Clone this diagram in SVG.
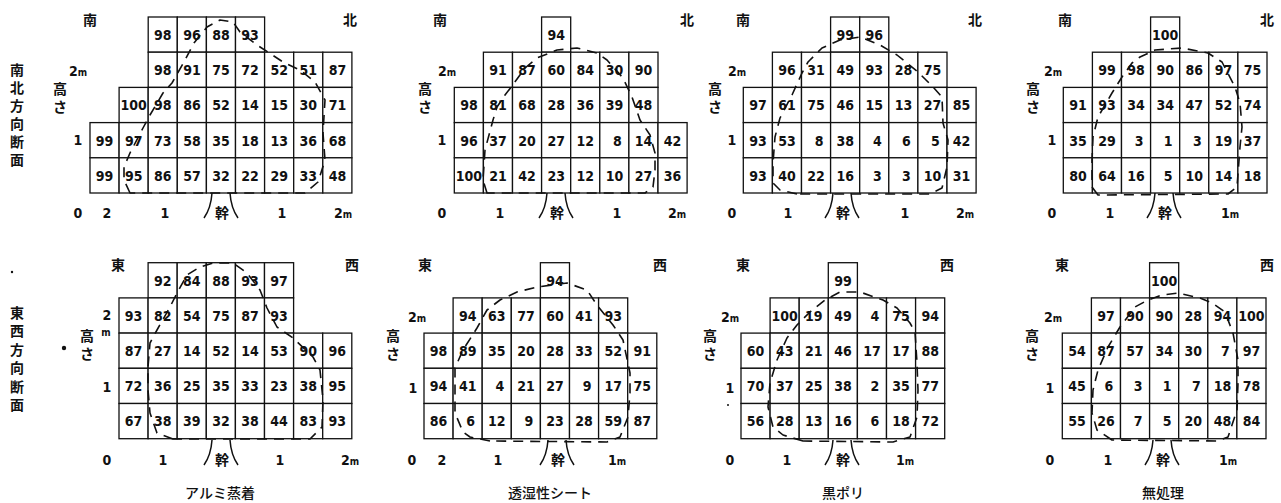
<svg xmlns="http://www.w3.org/2000/svg" xmlns:xlink="http://www.w3.org/1999/xlink" width="1281" height="503" viewBox="0 0 1281 503">
<style>
.cell{fill:#fff;stroke:#111;stroke-width:1.3}
.n{font-family:"Liberation Sans Narrow","DejaVu Sans Condensed","Liberation Sans",sans-serif;font-size:14px;font-weight:600;text-anchor:middle;fill:#111}
.lb{font-family:"Liberation Sans Narrow","DejaVu Sans Condensed","Liberation Sans",sans-serif;font-size:14px;font-weight:600;text-anchor:middle;fill:#111}
.jp{font-family:"Noto Sans CJK JP","Noto Sans CJK SC",sans-serif;font-size:14px;font-weight:700;text-anchor:middle;fill:#111}
.cap{font-family:"Noto Sans CJK JP","Noto Sans CJK SC",sans-serif;font-size:14px;font-weight:500;text-anchor:middle;fill:#111}
.o{fill:none;stroke:#111;stroke-width:1.6;stroke-dasharray:10 7;stroke-linejoin:round}
.t{fill:none;stroke:#111;stroke-width:1.5}
.sm{font-size:10px}
</style>
<defs><rect id="c" class="cell" width="29.1" height="35.2"/></defs>
<rect width="1281" height="503" fill="#fff"/>

<g id="side-labels">
<text class="jp" x="17" y="75"><tspan x="17">南</tspan><tspan x="17" dy="18">北</tspan><tspan x="17" dy="18">方</tspan><tspan x="17" dy="18">向</tspan><tspan x="17" dy="18">断</tspan><tspan x="17" dy="18">面</tspan></text>
<text class="jp" x="17" y="318"><tspan x="17">東</tspan><tspan x="17" dy="18.4">西</tspan><tspan x="17" dy="18.4">方</tspan><tspan x="17" dy="18.4">向</tspan><tspan x="17" dy="18.4">断</tspan><tspan x="17" dy="18.4">面</tspan></text>
<circle cx="64" cy="348" r="2.2" fill="#111"/>
<circle cx="12" cy="272" r="1.2" fill="#111"/>
<circle cx="728" cy="405" r="1" fill="#111"/>
</g>

<!-- Panel 1: アルミ蒸着 南北 -->
<g id="p1">
<g transform="translate(90,17)">
<use href="#c" x="58.2" y="0"/><use href="#c" x="87.3" y="0"/><use href="#c" x="116.4" y="0"/><use href="#c" x="145.5" y="0"/>
<use href="#c" x="58.2" y="35.2"/><use href="#c" x="87.3" y="35.2"/><use href="#c" x="116.4" y="35.2"/><use href="#c" x="145.5" y="35.2"/><use href="#c" x="174.6" y="35.2"/><use href="#c" x="203.7" y="35.2"/><use href="#c" x="232.8" y="35.2"/>
<use href="#c" x="29.1" y="70.4"/><use href="#c" x="58.2" y="70.4"/><use href="#c" x="87.3" y="70.4"/><use href="#c" x="116.4" y="70.4"/><use href="#c" x="145.5" y="70.4"/><use href="#c" x="174.6" y="70.4"/><use href="#c" x="203.7" y="70.4"/><use href="#c" x="232.8" y="70.4"/>
<use href="#c" x="0" y="105.6"/><use href="#c" x="29.1" y="105.6"/><use href="#c" x="58.2" y="105.6"/><use href="#c" x="87.3" y="105.6"/><use href="#c" x="116.4" y="105.6"/><use href="#c" x="145.5" y="105.6"/><use href="#c" x="174.6" y="105.6"/><use href="#c" x="203.7" y="105.6"/><use href="#c" x="232.8" y="105.6"/>
<use href="#c" x="0" y="140.8"/><use href="#c" x="29.1" y="140.8"/><use href="#c" x="58.2" y="140.8"/><use href="#c" x="87.3" y="140.8"/><use href="#c" x="116.4" y="140.8"/><use href="#c" x="145.5" y="140.8"/><use href="#c" x="174.6" y="140.8"/><use href="#c" x="203.7" y="140.8"/><use href="#c" x="232.8" y="140.8"/>
<text class="n" x="72.8" y="23">98</text><text class="n" x="101.9" y="23">96</text><text class="n" x="131" y="23">88</text><text class="n" x="160.1" y="23">93</text>
<text class="n" x="72.8" y="58.2">98</text><text class="n" x="101.9" y="58.2">91</text><text class="n" x="131" y="58.2">75</text><text class="n" x="160.1" y="58.2">72</text><text class="n" x="189.2" y="58.2">52</text><text class="n" x="218.3" y="58.2">51</text><text class="n" x="247.4" y="58.2">87</text>
<text class="n" x="43.7" y="93.4">100</text><text class="n" x="72.8" y="93.4">98</text><text class="n" x="101.9" y="93.4">86</text><text class="n" x="131" y="93.4">52</text><text class="n" x="160.1" y="93.4">14</text><text class="n" x="189.2" y="93.4">15</text><text class="n" x="218.3" y="93.4">30</text><text class="n" x="247.4" y="93.4">71</text>
<text class="n" x="14.6" y="128.6">99</text><text class="n" x="43.7" y="128.6">97</text><text class="n" x="72.8" y="128.6">73</text><text class="n" x="101.9" y="128.6">58</text><text class="n" x="131" y="128.6">35</text><text class="n" x="160.1" y="128.6">18</text><text class="n" x="189.2" y="128.6">13</text><text class="n" x="218.3" y="128.6">36</text><text class="n" x="247.4" y="128.6">68</text>
<text class="n" x="14.6" y="163.8">99</text><text class="n" x="43.7" y="163.8">95</text><text class="n" x="72.8" y="163.8">86</text><text class="n" x="101.9" y="163.8">57</text><text class="n" x="131" y="163.8">32</text><text class="n" x="160.1" y="163.8">22</text><text class="n" x="189.2" y="163.8">29</text><text class="n" x="218.3" y="163.8">33</text><text class="n" x="247.4" y="163.8">48</text>
</g>
<text class="jp" x="90" y="25">南</text><text class="jp" x="350" y="25">北</text>
<text class="lb" x="78" y="76">2<tspan class="sm">m</tspan></text>
<text class="jp" x="60" y="94"><tspan x="60">高</tspan><tspan x="60" dy="18">さ</tspan></text>
<text class="lb" x="78" y="145">1</text>
<text class="lb" x="78" y="218">0</text><text class="lb" x="107" y="218">2</text><text class="lb" x="165" y="218">1</text><text class="jp" x="222" y="218">幹</text><text class="lb" x="282" y="218">1</text><text class="lb" x="343" y="218">2<tspan class="sm">m</tspan></text>
<path class="t" d="M212,193 Q211,208 204,218 M230,193 Q231,208 238,218"/>
<path class="o" d="M130,193 L124,180 L124,167 L130,153 L143,128 L150,115 L163,93 L172,83 L185,60 L194,43 L207,27 L220,20 L233,22 L240,32 L257,45 L283,62 L300,70 L315,82 L325,100 L323,133 L325,160 L318,182 L305,193 Z"/>
</g>

<!-- Panel 2: 透湿性シート 南北 -->
<g id="p2">
<g transform="translate(454.3,17)">
<use href="#c" x="87.3" y="0"/>
<use href="#c" x="29.1" y="35.2"/><use href="#c" x="58.2" y="35.2"/><use href="#c" x="87.3" y="35.2"/><use href="#c" x="116.4" y="35.2"/><use href="#c" x="145.5" y="35.2"/><use href="#c" x="174.6" y="35.2"/>
<use href="#c" x="0" y="70.4"/><use href="#c" x="29.1" y="70.4"/><use href="#c" x="58.2" y="70.4"/><use href="#c" x="87.3" y="70.4"/><use href="#c" x="116.4" y="70.4"/><use href="#c" x="145.5" y="70.4"/><use href="#c" x="174.6" y="70.4"/>
<use href="#c" x="0" y="105.6"/><use href="#c" x="29.1" y="105.6"/><use href="#c" x="58.2" y="105.6"/><use href="#c" x="87.3" y="105.6"/><use href="#c" x="116.4" y="105.6"/><use href="#c" x="145.5" y="105.6"/><use href="#c" x="174.6" y="105.6"/><use href="#c" x="203.7" y="105.6"/>
<use href="#c" x="0" y="140.8"/><use href="#c" x="29.1" y="140.8"/><use href="#c" x="58.2" y="140.8"/><use href="#c" x="87.3" y="140.8"/><use href="#c" x="116.4" y="140.8"/><use href="#c" x="145.5" y="140.8"/><use href="#c" x="174.6" y="140.8"/><use href="#c" x="203.7" y="140.8"/>
<text class="n" x="101.9" y="23">94</text>
<text class="n" x="43.7" y="58.2">91</text><text class="n" x="72.8" y="58.2">87</text><text class="n" x="101.9" y="58.2">60</text><text class="n" x="131" y="58.2">84</text><text class="n" x="160.1" y="58.2">30</text><text class="n" x="189.2" y="58.2">90</text>
<text class="n" x="14.6" y="93.4">98</text><text class="n" x="43.7" y="93.4">81</text><text class="n" x="72.8" y="93.4">68</text><text class="n" x="101.9" y="93.4">28</text><text class="n" x="131" y="93.4">36</text><text class="n" x="160.1" y="93.4">39</text><text class="n" x="189.2" y="93.4">48</text>
<text class="n" x="14.6" y="128.6">96</text><text class="n" x="43.7" y="128.6">37</text><text class="n" x="72.8" y="128.6">20</text><text class="n" x="101.9" y="128.6">27</text><text class="n" x="131" y="128.6">12</text><text class="n" x="163.1" y="128.6">8</text><text class="n" x="189.2" y="128.6">14</text><text class="n" x="218.3" y="128.6">42</text>
<text class="n" x="14.6" y="163.8">100</text><text class="n" x="43.7" y="163.8">21</text><text class="n" x="72.8" y="163.8">42</text><text class="n" x="101.9" y="163.8">23</text><text class="n" x="131" y="163.8">12</text><text class="n" x="160.1" y="163.8">10</text><text class="n" x="189.2" y="163.8">27</text><text class="n" x="218.3" y="163.8">36</text>
</g>
<text class="jp" x="440" y="25">南</text><text class="jp" x="687" y="25">北</text>
<text class="lb" x="447" y="76">2<tspan class="sm">m</tspan></text>
<text class="jp" x="425" y="94"><tspan x="425">高</tspan><tspan x="425" dy="18">さ</tspan></text>
<text class="lb" x="442" y="145">1</text>
<text class="lb" x="442" y="218">0</text><text class="lb" x="500" y="218">1</text><text class="jp" x="557" y="218">幹</text><text class="lb" x="617" y="218">1</text><text class="lb" x="677" y="218">2<tspan class="sm">m</tspan></text>
<path class="t" d="M547,193 Q546,208 539,218 M565,193 Q566,208 573,218"/>
<path class="o" d="M487,193 L483,180 L485,150 L493,120 L497,107 L505,95 L512,86 L525,68 L537,58 L557,50 L577,48 L597,53 L607,60 L623,78 L632,97 L640,120 L650,135 L655,153 L655,170 L653,187 L645,193 Z"/>
</g>

<!-- Panel 3: 黒ポリ 南北 -->
<g id="p3">
<g transform="translate(743.3,17)">
<use href="#c" x="87.3" y="0"/><use href="#c" x="116.4" y="0"/>
<use href="#c" x="29.1" y="35.2"/><use href="#c" x="58.2" y="35.2"/><use href="#c" x="87.3" y="35.2"/><use href="#c" x="116.4" y="35.2"/><use href="#c" x="145.5" y="35.2"/><use href="#c" x="174.6" y="35.2"/>
<use href="#c" x="0" y="70.4"/><use href="#c" x="29.1" y="70.4"/><use href="#c" x="58.2" y="70.4"/><use href="#c" x="87.3" y="70.4"/><use href="#c" x="116.4" y="70.4"/><use href="#c" x="145.5" y="70.4"/><use href="#c" x="174.6" y="70.4"/><use href="#c" x="203.7" y="70.4"/>
<use href="#c" x="0" y="105.6"/><use href="#c" x="29.1" y="105.6"/><use href="#c" x="58.2" y="105.6"/><use href="#c" x="87.3" y="105.6"/><use href="#c" x="116.4" y="105.6"/><use href="#c" x="145.5" y="105.6"/><use href="#c" x="174.6" y="105.6"/><use href="#c" x="203.7" y="105.6"/>
<use href="#c" x="0" y="140.8"/><use href="#c" x="29.1" y="140.8"/><use href="#c" x="58.2" y="140.8"/><use href="#c" x="87.3" y="140.8"/><use href="#c" x="116.4" y="140.8"/><use href="#c" x="145.5" y="140.8"/><use href="#c" x="174.6" y="140.8"/><use href="#c" x="203.7" y="140.8"/>
<text class="n" x="101.9" y="23">99</text><text class="n" x="131" y="23">96</text>
<text class="n" x="43.7" y="58.2">96</text><text class="n" x="72.8" y="58.2">31</text><text class="n" x="101.9" y="58.2">49</text><text class="n" x="131" y="58.2">93</text><text class="n" x="160.1" y="58.2">28</text><text class="n" x="189.2" y="58.2">75</text>
<text class="n" x="14.6" y="93.4">97</text><text class="n" x="43.7" y="93.4">61</text><text class="n" x="72.8" y="93.4">75</text><text class="n" x="101.9" y="93.4">46</text><text class="n" x="131" y="93.4">15</text><text class="n" x="160.1" y="93.4">13</text><text class="n" x="189.2" y="93.4">27</text><text class="n" x="218.3" y="93.4">85</text>
<text class="n" x="14.6" y="128.6">93</text><text class="n" x="43.7" y="128.6">53</text><text class="n" x="75.8" y="128.6">8</text><text class="n" x="101.9" y="128.6">38</text><text class="n" x="134" y="128.6">4</text><text class="n" x="163.1" y="128.6">6</text><text class="n" x="192.2" y="128.6">5</text><text class="n" x="218.3" y="128.6">42</text>
<text class="n" x="14.6" y="163.8">93</text><text class="n" x="43.7" y="163.8">40</text><text class="n" x="72.8" y="163.8">22</text><text class="n" x="101.9" y="163.8">16</text><text class="n" x="134" y="163.8">3</text><text class="n" x="163.1" y="163.8">3</text><text class="n" x="189.2" y="163.8">10</text><text class="n" x="218.3" y="163.8">31</text>
</g>
<text class="jp" x="743" y="25">南</text><text class="jp" x="975" y="25">北</text>
<text class="lb" x="737" y="76">2<tspan class="sm">m</tspan></text>
<text class="jp" x="715" y="94"><tspan x="715">高</tspan><tspan x="715" dy="18">さ</tspan></text>
<text class="lb" x="732" y="145">1</text>
<text class="lb" x="732" y="218">0</text><text class="lb" x="788" y="218">1</text><text class="jp" x="843" y="218">幹</text><text class="lb" x="905" y="218">1</text><text class="lb" x="965" y="218">2<tspan class="sm">m</tspan></text>
<path class="t" d="M833,193 Q832,208 825,218 M851,193 Q852,208 859,218"/>
<path class="o" d="M797,194 L780,190 L773,183 L773,163 L775,137 L780,118 L792,95 L802,73 L808,62 L822,48 L840,40 L860,37 L880,45 L897,55 L918,72 L933,87 L942,97 L943,123 L948,140 L947,167 L942,188 L930,194 Z"/>
</g>

<!-- Panel 4: 無処理 南北 -->
<g id="p4">
<g transform="translate(1063.3,17)">
<use href="#c" x="87.3" y="0"/>
<use href="#c" x="29.1" y="35.2"/><use href="#c" x="58.2" y="35.2"/><use href="#c" x="87.3" y="35.2"/><use href="#c" x="116.4" y="35.2"/><use href="#c" x="145.5" y="35.2"/><use href="#c" x="174.6" y="35.2"/>
<use href="#c" x="0" y="70.4"/><use href="#c" x="29.1" y="70.4"/><use href="#c" x="58.2" y="70.4"/><use href="#c" x="87.3" y="70.4"/><use href="#c" x="116.4" y="70.4"/><use href="#c" x="145.5" y="70.4"/><use href="#c" x="174.6" y="70.4"/>
<use href="#c" x="0" y="105.6"/><use href="#c" x="29.1" y="105.6"/><use href="#c" x="58.2" y="105.6"/><use href="#c" x="87.3" y="105.6"/><use href="#c" x="116.4" y="105.6"/><use href="#c" x="145.5" y="105.6"/><use href="#c" x="174.6" y="105.6"/>
<use href="#c" x="0" y="140.8"/><use href="#c" x="29.1" y="140.8"/><use href="#c" x="58.2" y="140.8"/><use href="#c" x="87.3" y="140.8"/><use href="#c" x="116.4" y="140.8"/><use href="#c" x="145.5" y="140.8"/><use href="#c" x="174.6" y="140.8"/>
<text class="n" x="101.9" y="23">100</text>
<text class="n" x="43.7" y="58.2">99</text><text class="n" x="72.8" y="58.2">98</text><text class="n" x="101.9" y="58.2">90</text><text class="n" x="131" y="58.2">86</text><text class="n" x="160.1" y="58.2">97</text><text class="n" x="189.2" y="58.2">75</text>
<text class="n" x="14.6" y="93.4">91</text><text class="n" x="43.7" y="93.4">93</text><text class="n" x="72.8" y="93.4">34</text><text class="n" x="101.9" y="93.4">34</text><text class="n" x="131" y="93.4">47</text><text class="n" x="160.1" y="93.4">52</text><text class="n" x="189.2" y="93.4">74</text>
<text class="n" x="14.6" y="128.6">35</text><text class="n" x="43.7" y="128.6">29</text><text class="n" x="75.8" y="128.6">3</text><text class="n" x="104.9" y="128.6">1</text><text class="n" x="134" y="128.6">3</text><text class="n" x="160.1" y="128.6">19</text><text class="n" x="189.2" y="128.6">37</text>
<text class="n" x="14.6" y="163.8">80</text><text class="n" x="43.7" y="163.8">64</text><text class="n" x="72.8" y="163.8">16</text><text class="n" x="104.9" y="163.8">5</text><text class="n" x="131" y="163.8">10</text><text class="n" x="160.1" y="163.8">14</text><text class="n" x="189.2" y="163.8">18</text>
</g>
<text class="jp" x="1065" y="25">南</text><text class="jp" x="1267" y="25">北</text>
<text class="lb" x="1053" y="76">2<tspan class="sm">m</tspan></text>
<text class="jp" x="1033" y="94"><tspan x="1033">高</tspan><tspan x="1033" dy="18">さ</tspan></text>
<text class="lb" x="1052" y="145">1</text>
<text class="lb" x="1052" y="218">0</text><text class="lb" x="1110" y="218">1</text><text class="jp" x="1165" y="218">幹</text><text class="lb" x="1230" y="218">1<tspan class="sm">m</tspan></text>
<path class="t" d="M1155,193 Q1154,208 1147,218 M1173,193 Q1174,208 1181,218"/>
<path class="o" d="M1098,195 L1092,187 L1092,160 L1093,137 L1098,117 L1112,93 L1122,77 L1132,63 L1140,57 L1155,50 L1182,48 L1208,53 L1222,62 L1235,87 L1240,103 L1242,127 L1240,147 L1237,187 L1228,194 Z"/>
</g>

<!-- Panel 5: アルミ蒸着 東西 -->
<g id="p5">
<g transform="translate(119,262.7)">
<use href="#c" x="29.1" y="0"/><use href="#c" x="58.2" y="0"/><use href="#c" x="87.3" y="0"/><use href="#c" x="116.4" y="0"/><use href="#c" x="145.5" y="0"/>
<use href="#c" x="0" y="35.2"/><use href="#c" x="29.1" y="35.2"/><use href="#c" x="58.2" y="35.2"/><use href="#c" x="87.3" y="35.2"/><use href="#c" x="116.4" y="35.2"/><use href="#c" x="145.5" y="35.2"/>
<use href="#c" x="0" y="70.4"/><use href="#c" x="29.1" y="70.4"/><use href="#c" x="58.2" y="70.4"/><use href="#c" x="87.3" y="70.4"/><use href="#c" x="116.4" y="70.4"/><use href="#c" x="145.5" y="70.4"/><use href="#c" x="174.6" y="70.4"/><use href="#c" x="203.7" y="70.4"/>
<use href="#c" x="0" y="105.6"/><use href="#c" x="29.1" y="105.6"/><use href="#c" x="58.2" y="105.6"/><use href="#c" x="87.3" y="105.6"/><use href="#c" x="116.4" y="105.6"/><use href="#c" x="145.5" y="105.6"/><use href="#c" x="174.6" y="105.6"/><use href="#c" x="203.7" y="105.6"/>
<use href="#c" x="0" y="140.8"/><use href="#c" x="29.1" y="140.8"/><use href="#c" x="58.2" y="140.8"/><use href="#c" x="87.3" y="140.8"/><use href="#c" x="116.4" y="140.8"/><use href="#c" x="145.5" y="140.8"/><use href="#c" x="174.6" y="140.8"/><use href="#c" x="203.7" y="140.8"/>
<text class="n" x="43.7" y="23">92</text><text class="n" x="72.8" y="23">84</text><text class="n" x="101.9" y="23">88</text><text class="n" x="131" y="23">93</text><text class="n" x="160.1" y="23">97</text>
<text class="n" x="14.6" y="58.2">93</text><text class="n" x="43.7" y="58.2">82</text><text class="n" x="72.8" y="58.2">54</text><text class="n" x="101.9" y="58.2">75</text><text class="n" x="131" y="58.2">87</text><text class="n" x="160.1" y="58.2">93</text>
<text class="n" x="14.6" y="93.4">87</text><text class="n" x="43.7" y="93.4">27</text><text class="n" x="72.8" y="93.4">14</text><text class="n" x="101.9" y="93.4">52</text><text class="n" x="131" y="93.4">14</text><text class="n" x="160.1" y="93.4">53</text><text class="n" x="189.2" y="93.4">90</text><text class="n" x="218.3" y="93.4">96</text>
<text class="n" x="14.6" y="128.6">72</text><text class="n" x="43.7" y="128.6">36</text><text class="n" x="72.8" y="128.6">25</text><text class="n" x="101.9" y="128.6">35</text><text class="n" x="131" y="128.6">33</text><text class="n" x="160.1" y="128.6">23</text><text class="n" x="189.2" y="128.6">38</text><text class="n" x="218.3" y="128.6">95</text>
<text class="n" x="14.6" y="163.8">67</text><text class="n" x="43.7" y="163.8">38</text><text class="n" x="72.8" y="163.8">39</text><text class="n" x="101.9" y="163.8">32</text><text class="n" x="131" y="163.8">38</text><text class="n" x="160.1" y="163.8">44</text><text class="n" x="189.2" y="163.8">83</text><text class="n" x="218.3" y="163.8">93</text>
</g>
<text class="jp" x="118" y="270">東</text><text class="jp" x="352" y="270">西</text>
<text class="lb" x="107" y="320">2</text><text class="lb sm" x="106" y="336">m</text>
<text class="jp" x="87" y="341"><tspan x="87">高</tspan><tspan x="87" dy="18">さ</tspan></text>
<text class="lb" x="107" y="392">1</text>
<text class="lb" x="107" y="465">0</text><text class="lb" x="163" y="465">1</text><text class="jp" x="222" y="465">幹</text><text class="lb" x="280" y="465">1</text><text class="lb" x="350" y="465">2<tspan class="sm">m</tspan></text>
<text class="cap" x="220" y="498">アルミ蒸着</text>
<path class="t" d="M212,440 Q211,455 204,465 M230,440 Q231,455 238,465"/>
<path class="o" d="M173,439 L157,433 L150,413 L148,390 L148,367 L150,343 L157,330 L170,307 L177,293 L187,275 L200,267 L213,263 L233,263 L247,273 L260,290 L267,308 L277,327 L293,338 L313,357 L320,370 L323,400 L322,427 L310,439 Z"/>
</g>

<!-- Panel 6: 透湿性シート 東西 -->
<g id="p6">
<g transform="translate(424,262.7)">
<use href="#c" x="116.4" y="0"/>
<use href="#c" x="29.1" y="35.2"/><use href="#c" x="58.2" y="35.2"/><use href="#c" x="87.3" y="35.2"/><use href="#c" x="116.4" y="35.2"/><use href="#c" x="145.5" y="35.2"/><use href="#c" x="174.6" y="35.2"/>
<use href="#c" x="0" y="70.4"/><use href="#c" x="29.1" y="70.4"/><use href="#c" x="58.2" y="70.4"/><use href="#c" x="87.3" y="70.4"/><use href="#c" x="116.4" y="70.4"/><use href="#c" x="145.5" y="70.4"/><use href="#c" x="174.6" y="70.4"/><use href="#c" x="203.7" y="70.4"/>
<use href="#c" x="0" y="105.6"/><use href="#c" x="29.1" y="105.6"/><use href="#c" x="58.2" y="105.6"/><use href="#c" x="87.3" y="105.6"/><use href="#c" x="116.4" y="105.6"/><use href="#c" x="145.5" y="105.6"/><use href="#c" x="174.6" y="105.6"/><use href="#c" x="203.7" y="105.6"/>
<use href="#c" x="0" y="140.8"/><use href="#c" x="29.1" y="140.8"/><use href="#c" x="58.2" y="140.8"/><use href="#c" x="87.3" y="140.8"/><use href="#c" x="116.4" y="140.8"/><use href="#c" x="145.5" y="140.8"/><use href="#c" x="174.6" y="140.8"/><use href="#c" x="203.7" y="140.8"/>
<text class="n" x="131" y="23">94</text>
<text class="n" x="43.7" y="58.2">94</text><text class="n" x="72.8" y="58.2">63</text><text class="n" x="101.9" y="58.2">77</text><text class="n" x="131" y="58.2">60</text><text class="n" x="160.1" y="58.2">41</text><text class="n" x="189.2" y="58.2">93</text>
<text class="n" x="14.6" y="93.4">98</text><text class="n" x="43.7" y="93.4">89</text><text class="n" x="72.8" y="93.4">35</text><text class="n" x="101.9" y="93.4">20</text><text class="n" x="131" y="93.4">28</text><text class="n" x="160.1" y="93.4">33</text><text class="n" x="189.2" y="93.4">52</text><text class="n" x="218.3" y="93.4">91</text>
<text class="n" x="14.6" y="128.6">94</text><text class="n" x="43.7" y="128.6">41</text><text class="n" x="75.8" y="128.6">4</text><text class="n" x="101.9" y="128.6">21</text><text class="n" x="131" y="128.6">27</text><text class="n" x="163.1" y="128.6">9</text><text class="n" x="189.2" y="128.6">17</text><text class="n" x="218.3" y="128.6">75</text>
<text class="n" x="14.6" y="163.8">86</text><text class="n" x="46.7" y="163.8">6</text><text class="n" x="72.8" y="163.8">12</text><text class="n" x="104.9" y="163.8">9</text><text class="n" x="131" y="163.8">23</text><text class="n" x="160.1" y="163.8">28</text><text class="n" x="189.2" y="163.8">59</text><text class="n" x="218.3" y="163.8">87</text>
</g>
<text class="jp" x="425" y="270">東</text><text class="jp" x="660" y="270">西</text>
<text class="lb" x="417" y="322">2<tspan class="sm">m</tspan></text>
<text class="jp" x="393" y="341"><tspan x="393">高</tspan><tspan x="393" dy="18">さ</tspan></text>
<text class="lb" x="413" y="393">1</text>
<text class="lb" x="412" y="465">0</text><text class="lb" x="442" y="465">2</text><text class="lb" x="498" y="465">1</text><text class="jp" x="558" y="465">幹</text><text class="lb" x="617" y="465">1<tspan class="sm">m</tspan></text>
<text class="cap" x="550" y="498">透湿性シート</text>
<path class="t" d="M548,440 Q547,455 540,465 M566,440 Q567,455 574,465"/>
<path class="o" d="M490,441 L470,437 L463,432 L455,413 L455,390 L455,368 L463,350 L477,328 L487,310 L500,300 L517,292 L537,287 L567,283 L587,290 L597,305 L613,325 L623,340 L630,373 L630,393 L628,417 L620,437 L607,442 Z"/>
</g>

<!-- Panel 7: 黒ポリ 東西 -->
<g id="p7">
<g transform="translate(741,262.7)">
<use href="#c" x="87.3" y="0"/>
<use href="#c" x="29.1" y="35.2"/><use href="#c" x="58.2" y="35.2"/><use href="#c" x="87.3" y="35.2"/><use href="#c" x="116.4" y="35.2"/><use href="#c" x="145.5" y="35.2"/><use href="#c" x="174.6" y="35.2"/>
<use href="#c" x="0" y="70.4"/><use href="#c" x="29.1" y="70.4"/><use href="#c" x="58.2" y="70.4"/><use href="#c" x="87.3" y="70.4"/><use href="#c" x="116.4" y="70.4"/><use href="#c" x="145.5" y="70.4"/><use href="#c" x="174.6" y="70.4"/>
<use href="#c" x="0" y="105.6"/><use href="#c" x="29.1" y="105.6"/><use href="#c" x="58.2" y="105.6"/><use href="#c" x="87.3" y="105.6"/><use href="#c" x="116.4" y="105.6"/><use href="#c" x="145.5" y="105.6"/><use href="#c" x="174.6" y="105.6"/>
<use href="#c" x="0" y="140.8"/><use href="#c" x="29.1" y="140.8"/><use href="#c" x="58.2" y="140.8"/><use href="#c" x="87.3" y="140.8"/><use href="#c" x="116.4" y="140.8"/><use href="#c" x="145.5" y="140.8"/><use href="#c" x="174.6" y="140.8"/>
<text class="n" x="101.9" y="23">99</text>
<text class="n" x="43.7" y="58.2">100</text><text class="n" x="72.8" y="58.2">19</text><text class="n" x="101.9" y="58.2">49</text><text class="n" x="134" y="58.2">4</text><text class="n" x="160.1" y="58.2">75</text><text class="n" x="189.2" y="58.2">94</text>
<text class="n" x="14.6" y="93.4">60</text><text class="n" x="43.7" y="93.4">43</text><text class="n" x="72.8" y="93.4">21</text><text class="n" x="101.9" y="93.4">46</text><text class="n" x="131" y="93.4">17</text><text class="n" x="160.1" y="93.4">17</text><text class="n" x="189.2" y="93.4">88</text>
<text class="n" x="14.6" y="128.6">70</text><text class="n" x="43.7" y="128.6">37</text><text class="n" x="72.8" y="128.6">25</text><text class="n" x="101.9" y="128.6">38</text><text class="n" x="134" y="128.6">2</text><text class="n" x="160.1" y="128.6">35</text><text class="n" x="189.2" y="128.6">77</text>
<text class="n" x="14.6" y="163.8">56</text><text class="n" x="43.7" y="163.8">28</text><text class="n" x="72.8" y="163.8">13</text><text class="n" x="101.9" y="163.8">16</text><text class="n" x="134" y="163.8">6</text><text class="n" x="160.1" y="163.8">18</text><text class="n" x="189.2" y="163.8">72</text>
</g>
<text class="jp" x="743" y="270">東</text><text class="jp" x="947" y="270">西</text>
<text class="lb" x="730" y="322">2<tspan class="sm">m</tspan></text>
<text class="jp" x="710" y="341"><tspan x="710">高</tspan><tspan x="710" dy="18">さ</tspan></text>
<text class="lb" x="730" y="393">1</text>
<text class="lb" x="730" y="465">0</text><text class="lb" x="787" y="465">1</text><text class="jp" x="843" y="465">幹</text><text class="lb" x="905" y="465">1<tspan class="sm">m</tspan></text>
<text class="cap" x="843" y="498">黒ポリ</text>
<path class="t" d="M833,440 Q832,455 825,465 M851,440 Q852,455 859,465"/>
<path class="o" d="M803,441 L783,435 L773,427 L768,407 L770,383 L777,360 L787,338 L797,325 L810,312 L825,300 L840,292 L860,292 L883,300 L897,308 L910,323 L915,332 L917,363 L918,390 L917,417 L910,437 L893,442 Z"/>
</g>

<!-- Panel 8: 無処理 東西 -->
<g id="p8">
<g transform="translate(1062.3,262.7)">
<use href="#c" x="87.3" y="0"/>
<use href="#c" x="29.1" y="35.2"/><use href="#c" x="58.2" y="35.2"/><use href="#c" x="87.3" y="35.2"/><use href="#c" x="116.4" y="35.2"/><use href="#c" x="145.5" y="35.2"/><use href="#c" x="174.6" y="35.2"/>
<use href="#c" x="0" y="70.4"/><use href="#c" x="29.1" y="70.4"/><use href="#c" x="58.2" y="70.4"/><use href="#c" x="87.3" y="70.4"/><use href="#c" x="116.4" y="70.4"/><use href="#c" x="145.5" y="70.4"/><use href="#c" x="174.6" y="70.4"/>
<use href="#c" x="0" y="105.6"/><use href="#c" x="29.1" y="105.6"/><use href="#c" x="58.2" y="105.6"/><use href="#c" x="87.3" y="105.6"/><use href="#c" x="116.4" y="105.6"/><use href="#c" x="145.5" y="105.6"/><use href="#c" x="174.6" y="105.6"/>
<use href="#c" x="0" y="140.8"/><use href="#c" x="29.1" y="140.8"/><use href="#c" x="58.2" y="140.8"/><use href="#c" x="87.3" y="140.8"/><use href="#c" x="116.4" y="140.8"/><use href="#c" x="145.5" y="140.8"/><use href="#c" x="174.6" y="140.8"/>
<text class="n" x="101.9" y="23">100</text>
<text class="n" x="43.7" y="58.2">97</text><text class="n" x="72.8" y="58.2">90</text><text class="n" x="101.9" y="58.2">90</text><text class="n" x="131" y="58.2">28</text><text class="n" x="160.1" y="58.2">94</text><text class="n" x="189.2" y="58.2">100</text>
<text class="n" x="14.6" y="93.4">54</text><text class="n" x="43.7" y="93.4">87</text><text class="n" x="72.8" y="93.4">57</text><text class="n" x="101.9" y="93.4">34</text><text class="n" x="131" y="93.4">30</text><text class="n" x="163.1" y="93.4">7</text><text class="n" x="189.2" y="93.4">97</text>
<text class="n" x="14.6" y="128.6">45</text><text class="n" x="46.7" y="128.6">6</text><text class="n" x="75.8" y="128.6">3</text><text class="n" x="104.9" y="128.6">1</text><text class="n" x="134" y="128.6">7</text><text class="n" x="160.1" y="128.6">18</text><text class="n" x="189.2" y="128.6">78</text>
<text class="n" x="14.6" y="163.8">55</text><text class="n" x="43.7" y="163.8">26</text><text class="n" x="75.8" y="163.8">7</text><text class="n" x="104.9" y="163.8">5</text><text class="n" x="131" y="163.8">20</text><text class="n" x="160.1" y="163.8">48</text><text class="n" x="189.2" y="163.8">84</text>
</g>
<text class="jp" x="1062" y="270">東</text><text class="jp" x="1267" y="270">西</text>
<text class="lb" x="1053" y="322">2<tspan class="sm">m</tspan></text>
<text class="jp" x="1032" y="341"><tspan x="1032">高</tspan><tspan x="1032" dy="18">さ</tspan></text>
<text class="lb" x="1050" y="393">1</text>
<text class="lb" x="1050" y="465">0</text><text class="lb" x="1108" y="465">1</text><text class="jp" x="1163" y="465">幹</text><text class="lb" x="1228" y="465">1<tspan class="sm">m</tspan></text>
<text class="cap" x="1163" y="498">無処理</text>
<path class="t" d="M1153,440 Q1152,455 1145,465 M1171,440 Q1172,455 1179,465"/>
<path class="o" d="M1112,440 L1097,430 L1092,413 L1093,390 L1098,370 L1108,347 L1120,327 L1135,307 L1148,300 L1162,295 L1178,293 L1200,298 L1212,303 L1225,312 L1233,333 L1238,360 L1238,383 L1237,410 L1228,437 L1218,441 Z"/>
</g>
</svg>
